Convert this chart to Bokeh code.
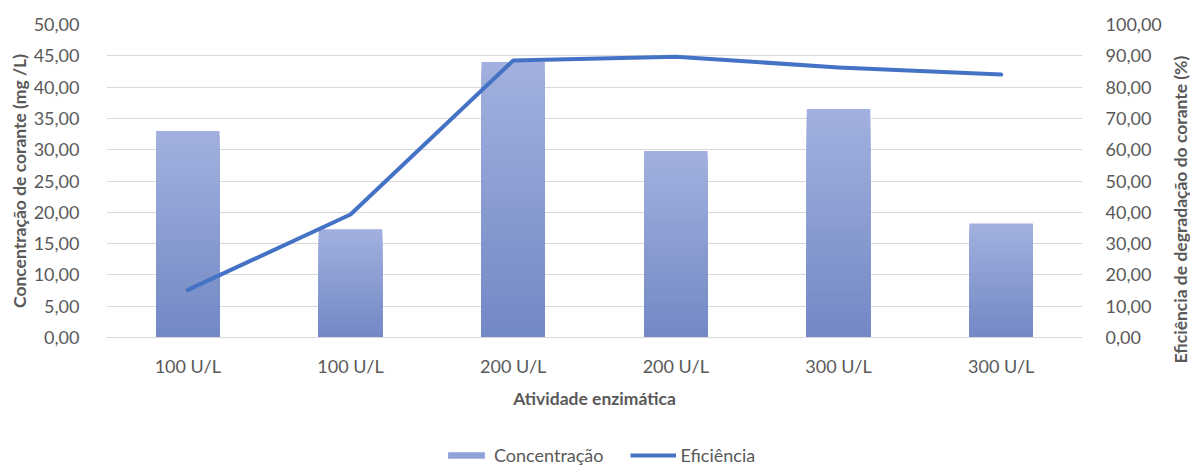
import numpy as np
from bokeh.plotting import figure
from bokeh.layouts import row, column
from bokeh.models import (Range1d, LinearAxis, FixedTicker, CustomJSTickFormatter,
                          Legend, LegendItem, ColumnDataSource, Title)
from bokeh.embed import file_html
from bokeh.resources import INLINE

# ---- data ----
categories = ["100 U/L", "100 U/L", "200 U/L", "200 U/L", "300 U/L", "300 U/L"]
concentracao = [33.0, 17.3, 44.0, 29.8, 36.5, 18.2]      # mg/L (left axis)
eficiencia = [15.2, 39.3, 88.5, 89.7, 86.3, 84.0]        # % (right axis)
left_ticks = [0, 5, 10, 15, 20, 25, 30, 35, 40, 45, 50]
right_ticks = [0, 10, 20, 30, 40, 50, 60, 70, 80, 90, 100]

FONT = "Lato"
GRAY = "#595959"
LINE_BLUE = "#4472C4"
BAR_SWATCH = "#8FA2D8"
BAR_TOP = np.array([161, 176, 222])
BAR_BOTTOM = np.array([114, 136, 196])

W, H = 1190, 466
MAIN_H = 430          # height of the chart panel; the legend strip sits below it
TITLE_W = 22          # strip on the right holding the secondary axis title

xs = list(range(len(categories)))

p = figure(width=W - TITLE_W, height=MAIN_H, output_backend="svg", toolbar_location=None,
           x_range=Range1d(-0.5, len(categories) - 0.5),
           y_range=Range1d(left_ticks[0], left_ticks[-1]),
           min_border_left=106, min_border_right=W - TITLE_W - 1082,
           min_border_top=24, min_border_bottom=93)
p.outline_line_color = None
p.background_fill_color = "white"
p.border_fill_color = "white"

# bars with a vertical gradient: stacked overlapping slices, tallest (lightest) first
N = 40
gx, gtop, gcol = [], [], []
for j in range(N, 0, -1):
    f = j / N
    c = BAR_BOTTOM + (BAR_TOP - BAR_BOTTOM) * f
    col = "#%02x%02x%02x" % tuple(int(round(v)) for v in c)
    for x, v in zip(xs, concentracao):
        gx.append(x)
        gtop.append(v * f)
        gcol.append(col)
p.vbar(x="x", top="top", bottom=0, width=0.39, fill_color="color", line_color=None,
       source=ColumnDataSource(dict(x=gx, top=gtop, color=gcol)))

# efficiency line on the secondary axis
p.extra_y_ranges = {"ef": Range1d(right_ticks[0], right_ticks[-1])}
p.line(xs, eficiencia, y_range_name="ef", line_color=LINE_BLUE, line_width=4,
       line_join="round", line_cap="round")

fmt = CustomJSTickFormatter(code="return tick.toFixed(2).replace('.', ',');")

# x axis
xa = p.xaxis[0]
xa.ticker = FixedTicker(ticks=xs)
xa.major_label_overrides = {i: c for i, c in enumerate(categories)}
xa.axis_label = "Atividade enzimática"
xa.axis_line_color = "#D9D9D9"
xa.major_tick_line_color = None
xa.minor_tick_line_color = None
xa.major_label_standoff = 11
xa.axis_label_standoff = 8

# left axis
ya = p.yaxis[0]
ya.ticker = FixedTicker(ticks=left_ticks)
ya.formatter = fmt
ya.axis_label = "Concentração de corante (mg /L)"
ya.axis_line_color = None
ya.major_tick_line_color = None
ya.minor_tick_line_color = None
ya.major_label_standoff = 21
ya.axis_label_standoff = 1

# right axis
ra = LinearAxis(y_range_name="ef", ticker=FixedTicker(ticks=right_ticks), formatter=fmt)
ra.axis_line_color = None
ra.major_tick_line_color = None
ra.minor_tick_line_color = None
ra.major_label_standoff = 17
p.add_layout(ra, "right")

for ax in (xa, ya, ra):
    ax.major_label_text_font = FONT
    ax.major_label_text_font_size = "18px"
    ax.major_label_text_color = GRAY
    ax.axis_label_text_font = FONT
    ax.axis_label_text_font_size = "17.5px"
    ax.axis_label_text_font_style = "bold"
    ax.axis_label_text_color = GRAY

p.xgrid.grid_line_color = None
p.ygrid.ticker = FixedTicker(ticks=left_ticks)
p.ygrid.grid_line_color = "#D9D9D9"
p.ygrid.grid_line_width = 1

# secondary axis title, reading upwards, held in the side panel of a narrow strip
t = figure(width=TITLE_W, height=MAIN_H, output_backend="svg", toolbar_location=None,
           x_axis_type=None, y_axis_type=None,
           x_range=Range1d(0, 1), y_range=Range1d(0, 1),
           min_border_left=0, min_border_right=0, min_border_top=0, min_border_bottom=0)
t.outline_line_color = None
t.add_layout(Title(text="Eficiência de degradação do corante (%)",
                   align="left", offset=-26, standoff=0, vertical_align="bottom",
                   text_font=FONT, text_font_size="17.5px", text_font_style="bold",
                   text_color=GRAY), "left")

# legend strip; the swatch renderers hold a single point outside the visible range
LEG_H = H - MAIN_H
lg = figure(width=W, height=LEG_H, output_backend="svg", toolbar_location=None,
            x_axis_type=None, y_axis_type=None,
            x_range=Range1d(0, W), y_range=Range1d(0, LEG_H),
            min_border_left=0, min_border_right=0, min_border_top=0, min_border_bottom=0)
lg.outline_line_color = None
bar_proxy = lg.vbar(x=[-50], top=[-50], bottom=[-60], width=1,
                    fill_color=BAR_SWATCH, line_color=None)
line_proxy = lg.line(x=[-60, -50], y=[-50, -50], line_color=LINE_BLUE, line_width=4)
legend = Legend(items=[LegendItem(label="Concentração", renderers=[bar_proxy]),
                       LegendItem(label="Eficiência", renderers=[line_proxy])],
                orientation="horizontal", location=(443, 0),
                glyph_width=46, glyph_height=8, label_height=8,
                label_standoff=5, spacing=26, padding=0, margin=0,
                label_text_font=FONT, label_text_font_size="18px",
                label_text_color=GRAY,
                border_line_color=None, background_fill_alpha=0)
lg.add_layout(legend, "center")

layout = column(row(p, t, spacing=0), lg, spacing=0)
open("out.html", "w").write(file_html(layout, INLINE))
